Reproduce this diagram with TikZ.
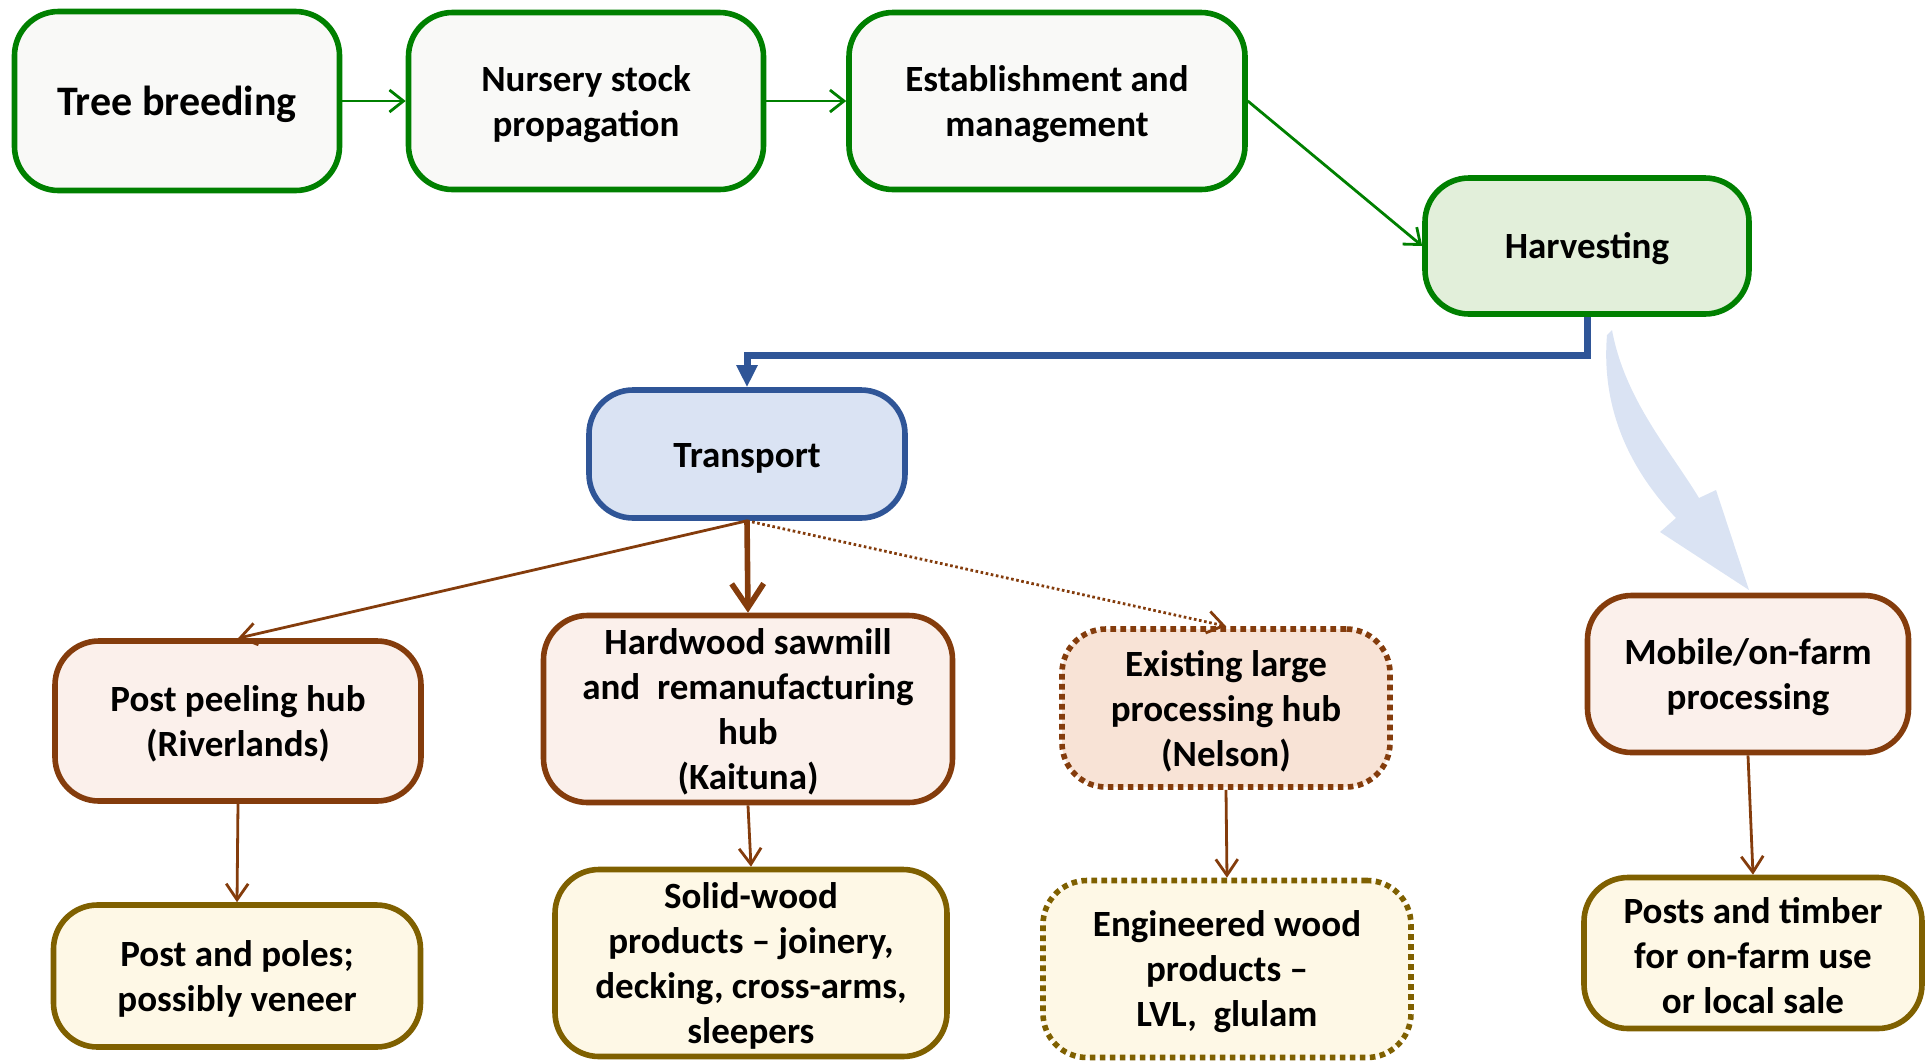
\documentclass[tikz,border=0pt]{standalone}
\usepackage{fontspec}
\setmainfont{Carlito}
\usetikzlibrary{arrows.meta}

\definecolor{leafgreen}{HTML}{008000}
\definecolor{offwhite}{HTML}{F9F9F7}
\definecolor{palegreen}{HTML}{E2EFDA}
\definecolor{steelblue}{HTML}{2F5597}
\definecolor{paleblue}{HTML}{DAE3F3}
\definecolor{timber}{HTML}{843C0C}
\definecolor{blush}{HTML}{FBF0EB}
\definecolor{peach}{HTML}{F8E3D6}
\definecolor{olive}{HTML}{7F6000}
\definecolor{cream}{HTML}{FEF8E6}

% a little extra room above the first line
\newcommand{\topgap}{\rule{0pt}{16pt}}

\tikzset{
  box/.style={line width=2.8pt, rounded corners=22pt, align=center, inner sep=0pt,
    font=\bfseries\fontsize{18.5}{22.5}\selectfont},
  stage/.style={box, draw=leafgreen, fill=offwhite},
  hub/.style={box, draw=timber, fill=blush},
  product/.style={box, draw=olive, fill=cream},
  maybe/.style={dash pattern=on 2.8pt off 2.2pt},
  greenflow/.style={draw=leafgreen, line width=1.4pt, -{Straight Barb[length=7pt,width=11pt]}},
  blueflow/.style={draw=steelblue, line width=3.5pt, -{Triangle[length=11pt,width=10pt]}},
  brownflow/.style={draw=timber, line width=1.4pt, -{Straight Barb[length=8pt,width=11pt]}},
}

\begin{document}
\begin{tikzpicture}[x=0.5pt, y=-0.5pt]
  \useasboundingbox (0,0) rectangle (1929,1061);

  % growing side
  \node[stage, minimum width=162.5pt, minimum height=89.5pt, font=\bfseries\fontsize{21}{25}\selectfont] (breed) at (177,101) {\rule{0pt}{18pt}Tree breeding};
  \node[stage, minimum width=177.5pt, minimum height=88.5pt] (nursery) at (586,101) {\topgap Nursery stock\\propagation};
  \node[stage, minimum width=198pt, minimum height=88.5pt] (estab) at (1047,101) {\topgap Establishment and\\management};
  \node[stage, fill=palegreen, minimum width=162pt, minimum height=68pt] (harv) at (1587,246) {\topgap Harvesting};
  \node[box, draw=steelblue, fill=paleblue, minimum width=158pt, minimum height=64pt] (trans) at (747,454) {\topgap Transport};

  % processing
  \node[hub, minimum width=183pt, minimum height=80pt] (peel) at (238,721) {\topgap Post peeling hub\\(Riverlands)};
  \node[hub, minimum width=204.5pt, minimum height=93.5pt] (sawmill) at (748,709) {\topgap Hardwood sawmill\\and\ \ remanufacturing\\hub\\(Kaituna)};
  \node[hub, maybe, fill=peach, minimum width=164pt, minimum height=79pt] (nelson) at (1226,708) {\topgap Existing large\\processing hub\\(Nelson)};
  \node[hub, minimum width=160.5pt, minimum height=78.5pt] (mobile) at (1748,674) {\topgap Mobile/on-farm\\processing};

  % products
  \node[product, minimum width=183.5pt, minimum height=71pt] (poles) at (237,976) {\topgap Post and poles;\\possibly veneer};
  \node[product, minimum width=196pt, minimum height=93.5pt] (solid) at (751,963) {\topgap Solid-wood\\products -- joinery,\\decking, cross-arms,\\sleepers};
  \node[product, maybe, minimum width=184pt, minimum height=88.5pt] (eng) at (1227,969) {\topgap Engineered wood\\products --\\LVL,\ \ glulam};
  \node[product, minimum width=169pt, minimum height=75.5pt] (local) at (1753,953) {\topgap Posts and timber\\for on-farm use\\or local sale};

  % connectors
  \draw[greenflow] (breed.east) -- (nursery.west);
  \draw[greenflow] (nursery.east) -- (estab.west);
  \draw[greenflow] (estab.east) -- (harv.west);
  \draw[blueflow] (harv.south) -- ++(0,39) -| (trans.north);

  \draw[brownflow] (trans.south) -- (peel.north);
  \draw[brownflow, line width=2.8pt, -{Straight Barb[length=12pt,width=16pt]}] (trans.south) -- (sawmill.north);
  \draw[brownflow, dash pattern=on 1.3pt off 1.3pt] (trans.south) -- (nelson.north);

  \draw[brownflow] (peel.south) -- (poles.north);
  \draw[brownflow] (sawmill.south) -- (solid.north);
  \draw[brownflow] (nelson.south) -- (eng.north);
  \draw[brownflow] (mobile.south) -- (local.north);

  % broad arrow towards on-farm processing
  \fill[paleblue] (1612,330) .. controls (1625,400) and (1670,450) .. (1699,498)
    -- (1716,490) -- (1749,590) -- (1660,532) -- (1676,518)
    .. controls (1640,480) and (1600,420) .. (1607,335) -- cycle;
\end{tikzpicture}
\end{document}
